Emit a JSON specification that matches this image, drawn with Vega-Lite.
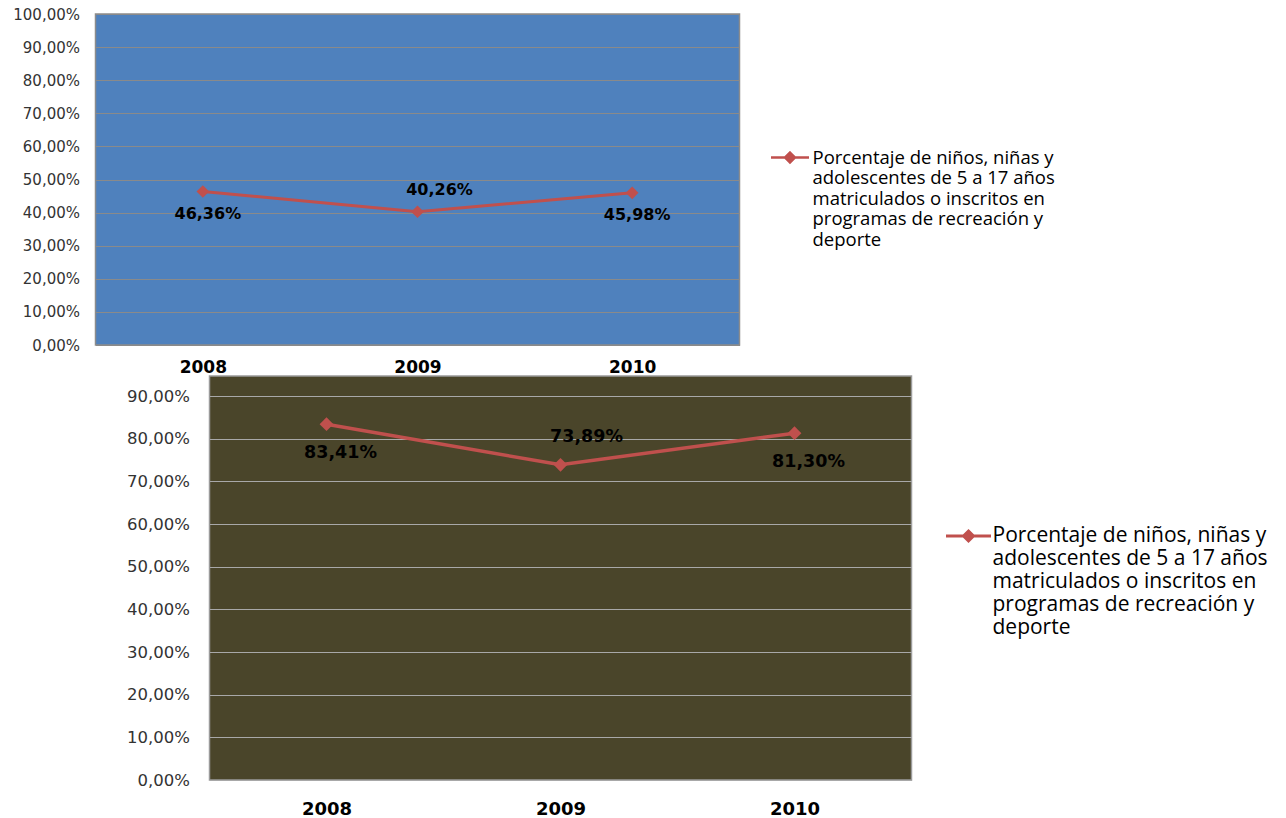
{
  "$schema": "https://vega.github.io/schema/vega-lite/v6.json",
  "padding": {"left": 11.5, "top": 6, "right": 0, "bottom": 0},
  "background": "white",
  "config": {
    "locale": {"number": {"decimal": ",", "thousands": ".", "grouping": [3], "currency": ["", " €"]}},
    "view": {"stroke": null}
  },
  "datasets": {
    "grafico_a": [
      {"anio": "2008", "valor": 0.4636, "serie": "Porcentaje de niños, niñas y adolescentes de 5 a 17 años matriculados o inscritos en programas de recreación y deporte"},
      {"anio": "2009", "valor": 0.4026, "serie": "Porcentaje de niños, niñas y adolescentes de 5 a 17 años matriculados o inscritos en programas de recreación y deporte"},
      {"anio": "2010", "valor": 0.4598, "serie": "Porcentaje de niños, niñas y adolescentes de 5 a 17 años matriculados o inscritos en programas de recreación y deporte"}
    ],
    "grafico_b": [
      {"anio": "2008", "valor": 0.8341, "serie": "Porcentaje de niños, niñas y adolescentes de 5 a 17 años matriculados o inscritos en programas de recreación y deporte"},
      {"anio": "2009", "valor": 0.7389, "serie": "Porcentaje de niños, niñas y adolescentes de 5 a 17 años matriculados o inscritos en programas de recreación y deporte"},
      {"anio": "2010", "valor": 0.8130, "serie": "Porcentaje de niños, niñas y adolescentes de 5 a 17 años matriculados o inscritos en programas de recreación y deporte"}
    ]
  },
  "spacing": -10,
  "resolve": {"scale": {"color": "independent"}, "legend": {"color": "independent"}},
  "vconcat": [
    {
      "width": 644,
      "height": 331,
      "data": {"name": "grafico_a"},
      "view": {"fill": "#4F81BD", "stroke": "#8C8C8C", "strokeWidth": 1.5},
      "encoding": {
        "x": {"field": "anio", "type": "ordinal", "scale": {"type": "point", "padding": 0.5},
          "axis": {"title": null, "labelAngle": 0, "domain": false, "ticks": false, "grid": false, "labelPadding": 14, "labelFont": "DejaVu Sans", "labelFontWeight": "bold", "labelFontSize": 17, "labelColor": "#000000"}},
        "y": {"field": "valor", "type": "quantitative", "scale": {"domain": [0, 1], "nice": false},
          "axis": {"title": null, "format": ".2%", "values": [0, 0.1, 0.2, 0.3, 0.4, 0.5, 0.6, 0.7, 0.8, 0.9, 1], "domain": false, "ticks": false, "labelPadding": 16, "labelFont": "DejaVu Sans", "labelFontSize": 15, "labelColor": "#333333", "gridColor": "#8A8A8A", "gridOpacity": 1, "gridWidth": 1}}
      },
      "layer": [
        {"mark": {"type": "line", "strokeWidth": 3},
          "encoding": {"color": {"field": "serie", "type": "nominal", "scale": {"range": ["#C0504D"]},
            "legend": {"title": null, "orient": "none", "legendX": 674, "legendY": 123,
              "symbolType": "M-1,0H1M0,-0.26L0.26,0L0,0.26L-0.26,0Z", "symbolSize": 1444,
              "symbolFillColor": "#C0504D", "symbolStrokeColor": "#C0504D", "symbolStrokeWidth": 2.5, "symbolOpacity": 1,
              "labelFont": "Open Sans", "labelFontSize": 18.5, "labelColor": "#000000", "labelLimit": 500, "labelOffset": 2, "labelBaseline": "middle",
              "labelExpr": "['Porcentaje de niños, niñas y', 'adolescentes de 5 a 17 años', 'matriculados o inscritos en', 'programas de recreación y', 'deporte']"}}}},
        {"mark": {"type": "point", "shape": "diamond", "filled": true, "size": 160, "opacity": 1, "color": "#C0504D"}},
        {"transform": [{"filter": "datum.anio != '2009'"}],
          "mark": {"type": "text", "font": "DejaVu Sans", "fontWeight": "bold", "fontSize": 16, "dy": 22, "dx": 5, "color": "#000000"},
          "encoding": {"text": {"field": "valor", "type": "quantitative", "format": ".2%"}}},
        {"transform": [{"filter": "datum.anio == '2009'"}],
          "mark": {"type": "text", "font": "DejaVu Sans", "fontWeight": "bold", "fontSize": 16, "dy": -22, "dx": 22, "color": "#000000"},
          "encoding": {"text": {"field": "valor", "type": "quantitative", "format": ".2%"}}}
      ]
    },
    {
      "spacing": 0,
      "resolve": {"scale": {"color": "independent"}, "legend": {"color": "independent"}},
      "hconcat": [
        {"width": 30, "height": 10, "data": {"values": []}, "mark": "point"},
        {
          "width": 702,
          "height": 404,
          "data": {"name": "grafico_b"},
          "view": {"fill": "#4A452A", "stroke": "#9A9A9A", "strokeWidth": 1.5},
          "encoding": {
            "x": {"field": "anio", "type": "ordinal", "scale": {"type": "point", "padding": 0.5},
              "axis": {"title": null, "labelAngle": 0, "domain": false, "ticks": false, "grid": false, "labelPadding": 20, "labelFont": "DejaVu Sans", "labelFontWeight": "bold", "labelFontSize": 18, "labelColor": "#000000"}},
            "y": {"field": "valor", "type": "quantitative", "scale": {"domain": [0, 0.947], "nice": false},
              "axis": {"title": null, "format": ".2%", "values": [0, 0.1, 0.2, 0.3, 0.4, 0.5, 0.6, 0.7, 0.8, 0.9], "domain": false, "ticks": false, "labelPadding": 20, "labelFont": "DejaVu Sans", "labelFontSize": 16.5, "labelColor": "#333333", "gridColor": "#A8A8A8", "gridOpacity": 1, "gridWidth": 1.2}}
          },
          "layer": [
            {"mark": {"type": "line", "strokeWidth": 3.5},
              "encoding": {"color": {"field": "serie", "type": "nominal", "scale": {"range": ["#C0504D"]},
                "legend": {"title": null, "orient": "none", "legendX": 735, "legendY": 136,
                  "symbolType": "M-1,0H1M0,-0.22L0.22,0L0,0.22L-0.22,0Z", "symbolSize": 2025,
                  "symbolFillColor": "#C0504D", "symbolStrokeColor": "#C0504D", "symbolStrokeWidth": 3, "symbolOpacity": 1,
                  "labelFont": "Open Sans", "labelFontSize": 21, "labelColor": "#000000", "labelLimit": 500, "labelOffset": 0, "labelBaseline": "middle",
                  "labelExpr": "['Porcentaje de niños, niñas y', 'adolescentes de 5 a 17 años', 'matriculados o inscritos en', 'programas de recreación y', 'deporte']"}}}},
            {"mark": {"type": "point", "shape": "diamond", "filled": true, "size": 190, "opacity": 1, "color": "#C0504D"}},
            {"transform": [{"filter": "datum.anio != '2009'"}],
              "mark": {"type": "text", "font": "DejaVu Sans", "fontWeight": "bold", "fontSize": 17.5, "dy": 29, "dx": 14, "color": "#000000"},
              "encoding": {"text": {"field": "valor", "type": "quantitative", "format": ".2%"}}},
            {"transform": [{"filter": "datum.anio == '2009'"}],
              "mark": {"type": "text", "font": "DejaVu Sans", "fontWeight": "bold", "fontSize": 17.5, "dy": -28, "dx": 26, "color": "#000000"},
              "encoding": {"text": {"field": "valor", "type": "quantitative", "format": ".2%"}}}
          ]
        }
      ]
    }
  ]
}
